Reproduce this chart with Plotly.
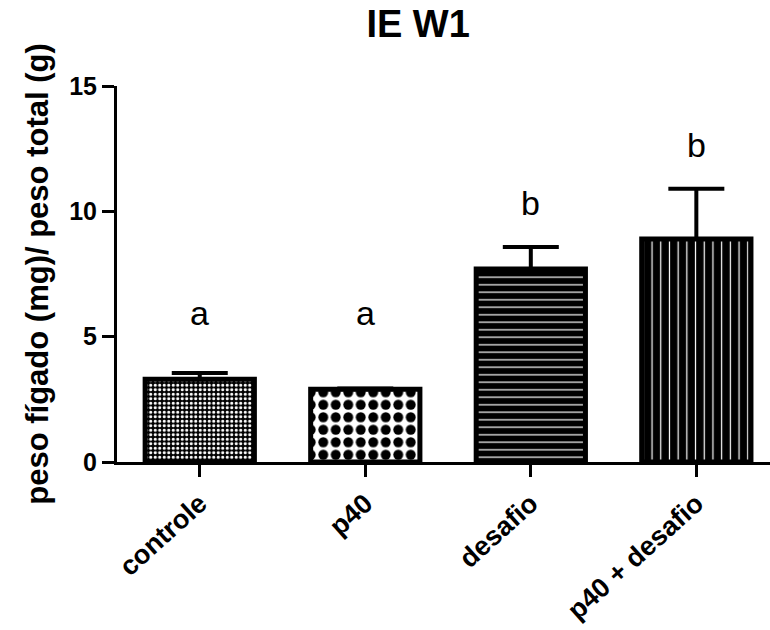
import plotly.graph_objects as go

categories = ["controle", "p40", "desafio", "p40 + desafio"]
means = [3.3, 2.9, 7.7, 8.9]
sem = [0.25, 0.03, 0.88, 2.0]
letters = ["a", "a", "b", "b"]
letter_y = [5.95, 5.95, 10.35, 12.65]
y_ticks = [0, 5, 10, 15]

FONT = "Liberation Sans, Arial, sans-serif"

patterns = [
    dict(shape=".", bgcolor="black", fgcolor="white", size=4.5, solidity=0.38, fillmode="replace"),
    dict(shape=".", bgcolor="white", fgcolor="black", size=12.5, solidity=0.5, fillmode="replace"),
    dict(shape="-", bgcolor="black", fgcolor="white", size=7.5, solidity=0.16, fillmode="replace"),
    dict(shape="|", bgcolor="black", fgcolor="white", size=8.7, solidity=0.14, fillmode="replace"),
]

fig = go.Figure()
for i, cat in enumerate(categories):
    fig.add_trace(go.Bar(
        x=[cat], y=[means[i]], width=0.66,
        marker=dict(color="black", pattern=patterns[i], line=dict(color="black", width=5)),
        error_y=dict(type="data", symmetric=False, array=[sem[i]], arrayminus=[0],
                     color="black", thickness=4, width=28),
        showlegend=False,
    ))

for i, cat in enumerate(categories):
    fig.add_annotation(x=cat, y=letter_y[i], text=letters[i], showarrow=False,
                       font=dict(family=FONT, size=34, color="black"), yanchor="middle")

fig.update_layout(
    width=770, height=630,
    margin=dict(l=117, r=0, t=86, b=168, pad=0),
    plot_bgcolor="white", paper_bgcolor="white",
    title=dict(text="<b>IE W1</b>", x=0.543, xanchor="center", y=0.962, yanchor="middle",
               font=dict(family=FONT, size=38, color="black")),
    barmode="overlay",
    xaxis=dict(
        type="category", categoryorder="array", categoryarray=categories,
        range=[-0.5, 3.445], showline=True, linecolor="black", linewidth=3,
        ticks="outside", ticklen=12, tickwidth=3, tickcolor="black",
        tickangle=-42, showgrid=False, zeroline=False, automargin=False,
        tickfont=dict(family=FONT, size=27, color="black", weight="bold"),
    ),
    yaxis=dict(
        range=[0, 15], tickvals=y_ticks, showline=True, linecolor="black", linewidth=3,
        ticks="outside", ticklen=12, tickwidth=3, tickcolor="black",
        showgrid=False, zeroline=False, automargin=False,
        tickfont=dict(family=FONT, size=25, color="black", weight="bold"),
        title=dict(text="<b>peso fígado (mg)/ peso total (g)</b>", standoff=12,
                   font=dict(family=FONT, size=31, color="black")),
    ),
)

fig.write_html("out.html")
